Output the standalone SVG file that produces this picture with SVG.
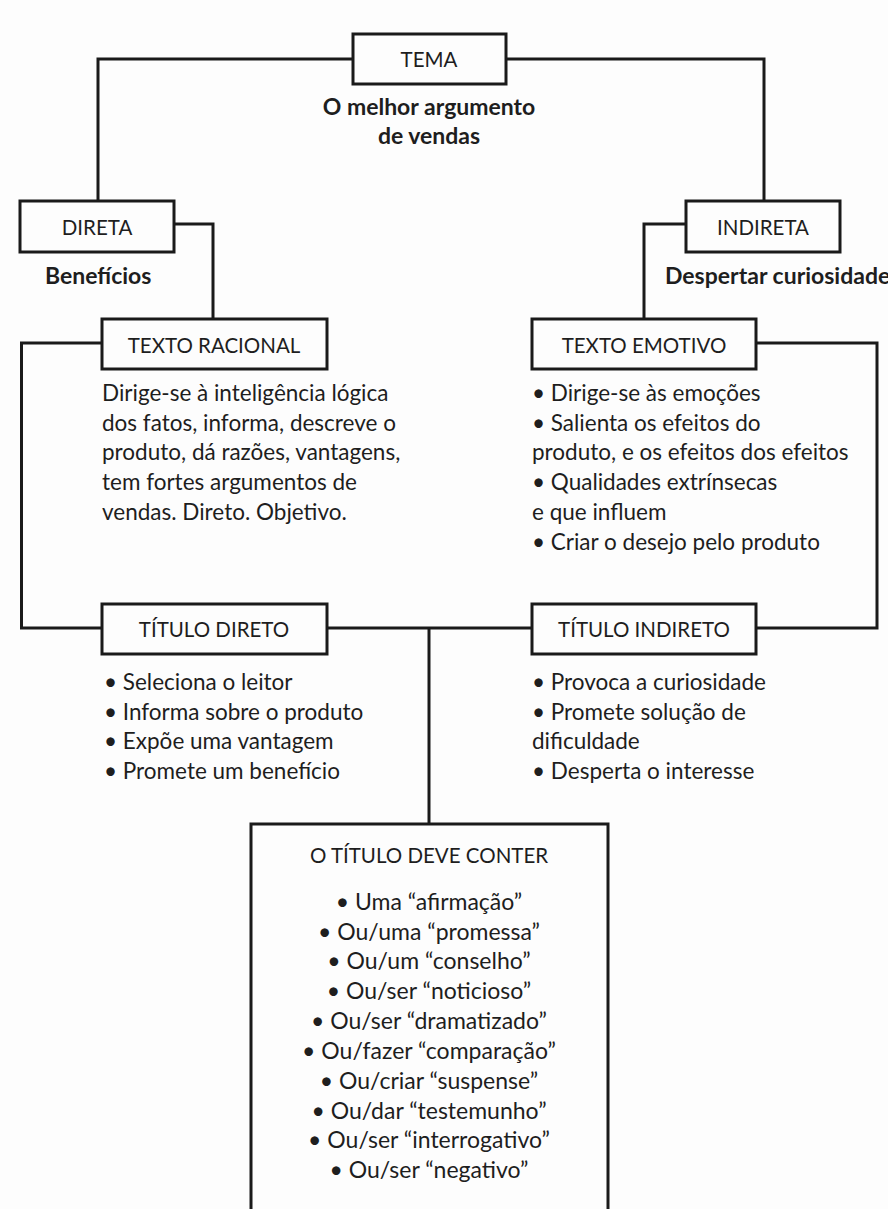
<svg xmlns="http://www.w3.org/2000/svg" width="888" height="1209" viewBox="0 0 888 1209">
<style>
.bx{fill:#fdfdfd;stroke:#1a1a1a;stroke-width:3}
.ln{fill:none;stroke:#1a1a1a;stroke-width:3}
text{font-family:Lato,"Open Sans","Liberation Sans",sans-serif;fill:#1e1e1e}
.h{font-size:20.5px;text-anchor:middle}
.b{font-size:23px;font-weight:bold}
.t{font-size:22.5px}
.l{font-size:23px;text-anchor:middle}
</style>
<rect width="888" height="1209" fill="#fdfdfd"/>
<g id="connectors">
<polyline class="ln" points="353,59 98,59 98,201"/>
<polyline class="ln" points="506,59 764,59 764,201"/>
<polyline class="ln" points="174,224 213,224 213,319"/>
<polyline class="ln" points="686,224 644,224 644,319"/>
<polyline class="ln" points="102,343 21.5,343 21.5,628 102,628"/>
<polyline class="ln" points="756,343 877,343 877,628 756,628"/>
<line class="ln" x1="327" y1="628" x2="532" y2="628"/>
<line class="ln" x1="429" y1="628" x2="429" y2="824"/>
</g>
<g id="tema">
<rect class="bx" x="353" y="34" width="153" height="50"/>
<text class="h" x="429" y="67">TEMA</text>
<text class="b" x="429" y="115" text-anchor="middle">O melhor argumento</text>
<text class="b" x="429" y="144" text-anchor="middle">de vendas</text>
</g>
<g id="direta">
<rect class="bx" x="20" y="201" width="154" height="51"/>
<text class="h" x="97" y="235">DIRETA</text>
<text class="b" x="45" y="284">Benefícios</text>
</g>
<g id="indireta">
<rect class="bx" x="686" y="201" width="154" height="51"/>
<text class="h" x="763" y="235">INDIRETA</text>
<text class="b" x="665" y="284">Despertar curiosidade</text>
</g>
<g id="texto-racional">
<rect class="bx" x="102" y="319" width="225" height="50"/>
<text class="h" x="214" y="353">TEXTO RACIONAL</text>
<text class="t" x="102" y="401">Dirige-se à inteligência lógica</text>
<text class="t" x="102" y="431">dos fatos, informa, descreve o</text>
<text class="t" x="102" y="460">produto, dá razões, vantagens,</text>
<text class="t" x="102" y="490">tem fortes argumentos de</text>
<text class="t" x="102" y="520">vendas. Direto. Objetivo.</text>
</g>
<g id="texto-emotivo">
<rect class="bx" x="532" y="319" width="224" height="50"/>
<text class="h" x="644" y="353">TEXTO EMOTIVO</text>
<text class="t" x="532" y="401">• Dirige-se às emoções</text>
<text class="t" x="532" y="431">• Salienta os efeitos do</text>
<text class="t" x="532" y="460">produto, e os efeitos dos efeitos</text>
<text class="t" x="532" y="490">• Qualidades extrínsecas</text>
<text class="t" x="532" y="520">e que influem</text>
<text class="t" x="532" y="550">• Criar o desejo pelo produto</text>
</g>
<g id="titulo-direto">
<rect class="bx" x="102" y="604" width="225" height="50"/>
<text class="h" x="214" y="637">TÍTULO DIRETO</text>
<text class="t" x="104" y="690">• Seleciona o leitor</text>
<text class="t" x="104" y="720">• Informa sobre o produto</text>
<text class="t" x="104" y="749">• Expõe uma vantagem</text>
<text class="t" x="104" y="779">• Promete um benefício</text>
</g>
<g id="titulo-indireto">
<rect class="bx" x="532" y="604" width="224" height="50"/>
<text class="h" x="644" y="637">TÍTULO INDIRETO</text>
<text class="t" x="532" y="690">• Provoca a curiosidade</text>
<text class="t" x="532" y="720">• Promete solução de</text>
<text class="t" x="532" y="749">dificuldade</text>
<text class="t" x="532" y="779">• Desperta o interesse</text>
</g>
<g id="titulo-deve-conter">
<rect class="bx" x="251" y="824" width="357" height="400"/>
<text class="h" x="429" y="863">O TÍTULO DEVE CONTER</text>
<text class="l" x="429" y="910">• Uma “afirmação”</text>
<text class="l" x="429" y="940">• Ou/uma “promessa”</text>
<text class="l" x="429" y="969">• Ou/um “conselho”</text>
<text class="l" x="429" y="999">• Ou/ser “noticioso”</text>
<text class="l" x="429" y="1029">• Ou/ser “dramatizado”</text>
<text class="l" x="429" y="1059">• Ou/fazer “comparação”</text>
<text class="l" x="429" y="1089">• Ou/criar “suspense”</text>
<text class="l" x="429" y="1119">• Ou/dar “testemunho”</text>
<text class="l" x="429" y="1148">• Ou/ser “interrogativo”</text>
<text class="l" x="429" y="1178">• Ou/ser “negativo”</text>
</g>
</svg>
